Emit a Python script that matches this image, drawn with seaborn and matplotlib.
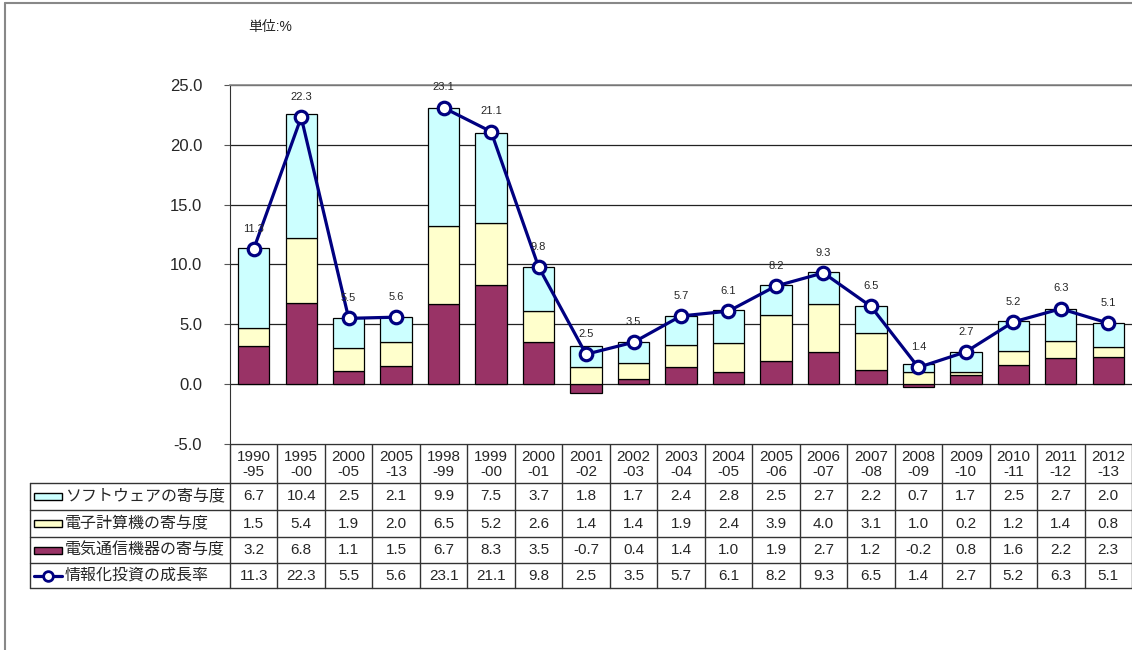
import matplotlib
matplotlib.use('Agg')
import numpy as np
import pandas as pd
import seaborn as sns
import matplotlib.pyplot as plt
from matplotlib.patches import Rectangle
from matplotlib.lines import Line2D

periods = ["1990\n-95", "1995\n-00", "2000\n-05", "2005\n-13", "1998\n-99", "1999\n-00",
           "2000\n-01", "2001\n-02", "2002\n-03", "2003\n-04", "2004\n-05", "2005\n-06",
           "2006\n-07", "2007\n-08", "2008\n-09", "2009\n-10", "2010\n-11", "2011\n-12",
           "2012\n-13"]
software = [6.7, 10.4, 2.5, 2.1, 9.9, 7.5, 3.7, 1.8, 1.7, 2.4, 2.8, 2.5, 2.7, 2.2, 0.7, 1.7, 2.5, 2.7, 2.0]
computer = [1.5, 5.4, 1.9, 2.0, 6.5, 5.2, 2.6, 1.4, 1.4, 1.9, 2.4, 3.9, 4.0, 3.1, 1.0, 0.2, 1.2, 1.4, 0.8]
telecom = [3.2, 6.8, 1.1, 1.5, 6.7, 8.3, 3.5, -0.7, 0.4, 1.4, 1.0, 1.9, 2.7, 1.2, -0.2, 0.8, 1.6, 2.2, 2.3]
growth = [11.3, 22.3, 5.5, 5.6, 23.1, 21.1, 9.8, 2.5, 3.5, 5.7, 6.1, 8.2, 9.3, 6.5, 1.4, 2.7, 5.2, 6.3, 5.1]
# the line is broken between the multi-year block and the annual block
segment = [0, 0, 0, 0, 1, 1, 1, 1, 1, 1, 1, 1, 1, 1, 1, 1, 1, 1, 1]

row_labels = ["ソフトウェアの寄与度", "電子計算機の寄与度", "電気通信機器の寄与度", "情報化投資の成長率"]

c_soft = "#CCFFFF"
c_comp = "#FFFFCC"
c_tel = "#993366"
c_line = "#000080"

sns.set_style("white")
plt.rcParams['font.family'] = ['Liberation Sans', 'Noto Sans CJK JP', 'DejaVu Sans']

df = pd.DataFrame({"period": periods, "software": software, "computer": computer,
                   "telecom": telecom, "growth": growth, "segment": segment})
df["b_comp"] = df["telecom"].clip(lower=0)
df["b_soft"] = df["b_comp"] + df["computer"]

W, H = 1132, 650
fig = plt.figure(figsize=(W / 100, H / 100), dpi=100)
x_left, x_right, y_top, y_bot = 230, 1132, 85, 444
ax = fig.add_axes([x_left / W, 1 - y_bot / H, (x_right - x_left) / W, (y_bot - y_top) / H])

bw = 0.66
kw = dict(width=bw, edgecolor="black", linewidth=0.9, ax=ax, order=periods)
sns.barplot(data=df, x="period", y="telecom", color=c_tel, saturation=1, **kw)
sns.barplot(data=df, x="period", y="computer", bottom=df["b_comp"], color=c_comp, saturation=1, **kw)
sns.barplot(data=df, x="period", y="software", bottom=df["b_soft"], color=c_soft, saturation=1, **kw)
for seg, sub in df.groupby("segment"):
    sns.pointplot(data=sub, x="period", y="growth", order=periods, color=c_line, ax=ax,
                  markers="o", linewidth=2.3, markersize=9, markerfacecolor="white",
                  markeredgecolor=c_line, markeredgewidth=2.3, zorder=5)

for i, g in enumerate(growth):
    ax.annotate(f"{g:.1f}", (i, g), xytext=(0, 11), textcoords="offset points",
                ha="center", va="bottom", fontsize=8, zorder=6)

ax.set_xlim(-0.5, len(periods) - 0.5)
ax.set_ylim(-5, 25)
ax.set_yticks(np.arange(-5, 26, 5))
ax.set_yticklabels([f"{v:.1f}" for v in np.arange(-5, 26, 5)], fontsize=12)
ax.tick_params(axis="y", left=True, length=4, width=0.8, pad=16, color="#555555")
ax.set_xticks([])
ax.set_xlabel("")
ax.set_ylabel("")
ax.yaxis.grid(True, color="#222222", linewidth=0.9)
ax.set_axisbelow(True)
ax.spines["right"].set_visible(False)
ax.spines["bottom"].set_visible(False)
ax.spines["left"].set_color("#333333")
ax.spines["top"].set_color("#888888")
ax.spines["top"].set_linewidth(1.2)

# overlay in pixel coordinates for the data table and frame
ov = fig.add_axes([0, 0, 1, 1], zorder=-1)
ov.set_xlim(0, W)
ov.set_ylim(H, 0)
ov.axis("off")
ov.add_line(Line2D([5, 5], [3, H], color="#888888", lw=1.5))
ov.add_line(Line2D([5, W], [3, 3], color="#888888", lw=1.5))
ov.text(248, 27, "単位:%", fontsize=10, va="center", ha="left")

colw = (x_right - x_left) / len(periods)
tab_left = 30
rows_y = [444, 483, 510, 537, 563, 588]
lc = "#333333"
ov.add_line(Line2D([x_left, W], [rows_y[0]] * 2, color=lc, lw=1))
for y in rows_y[1:]:
    ov.add_line(Line2D([tab_left, W], [y, y], color=lc, lw=1))
ov.add_line(Line2D([tab_left, tab_left], [rows_y[1], rows_y[-1]], color=lc, lw=1))
for i in range(len(periods) + 1):
    xx = x_left + i * colw
    ov.add_line(Line2D([xx, xx], [rows_y[0], rows_y[-1]], color=lc, lw=1))

series = [software, computer, telecom, growth]
for i, p in enumerate(periods):
    cx = x_left + (i + 0.5) * colw
    ov.text(cx, (rows_y[0] + rows_y[1]) / 2 + 1, p, ha="center", va="center",
            fontsize=11, linespacing=1.1)
    for r, s in enumerate(series):
        cy = (rows_y[r + 1] + rows_y[r + 2]) / 2
        ov.text(cx, cy, f"{s[i]:.1f}", ha="center", va="center", fontsize=11)

fills = [c_soft, c_comp, c_tel]
for r, lab in enumerate(row_labels):
    cy = (rows_y[r + 1] + rows_y[r + 2]) / 2
    if r < 3:
        ov.add_patch(Rectangle((34, cy - 3.5), 28, 7, facecolor=fills[r], edgecolor="black", lw=1))
    else:
        ov.add_line(Line2D([34, 62], [cy, cy], color=c_line, lw=2.3))
        ov.plot([48], [cy], marker="o", markersize=7, markerfacecolor="white",
                markeredgecolor=c_line, markeredgewidth=2)
    ov.text(65, cy, lab, ha="left", va="center", fontsize=11.5)

fig.savefig("out.png", dpi=100)
